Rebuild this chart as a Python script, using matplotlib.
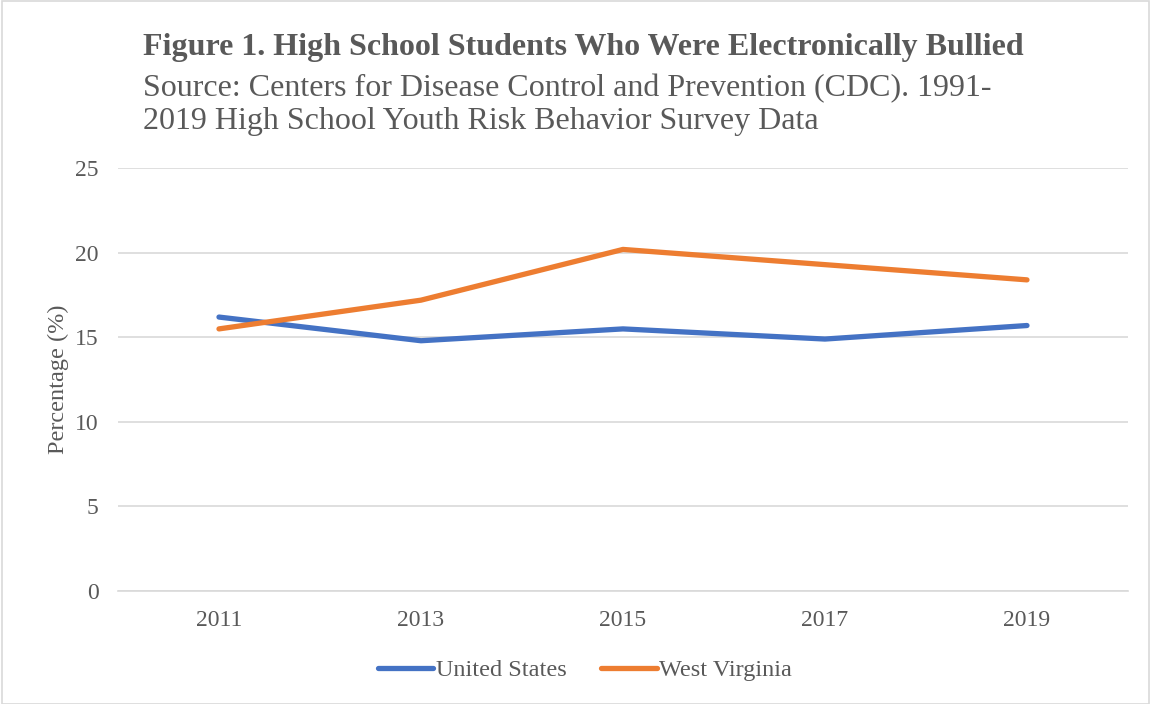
import matplotlib.pyplot as plt
from matplotlib.patches import Rectangle

plt.rcParams['font.family'] = ['Liberation Serif', 'DejaVu Serif']

years = ['2011', '2013', '2015', '2017', '2019']
united_states = [16.2, 14.8, 15.5, 14.9, 15.7]
west_virginia = [15.5, 17.2, 20.2, 19.3, 18.4]
y_ticks = [0, 5, 10, 15, 20, 25]

text_color = '#595959'

fig = plt.figure(figsize=(11.51, 7.04), dpi=100)
ax = fig.add_axes([0.1025, 0.1605, 0.8775, 0.6005])

x = range(len(years))
ax.plot(x, united_states, color='#4472C4', linewidth=3.8, solid_capstyle='round', label='United States')
ax.plot(x, west_virginia, color='#ED7D31', linewidth=3.8, solid_capstyle='round', label='West Virginia')

ax.set_xlim(-0.5, len(years) - 0.5)
ax.set_ylim(0, 25)
ax.set_yticks(y_ticks)
ax.set_xticks(list(x))
ax.set_xticklabels(years)
ax.grid(axis='y', color='#D9D9D9', linewidth=1.2)
ax.set_axisbelow(True)
for s in ['top', 'right', 'left']:
    ax.spines[s].set_visible(False)
ax.spines['bottom'].set_color('#D9D9D9')
ax.spines['bottom'].set_linewidth(1.2)
ax.tick_params(length=0, labelsize=17, labelcolor=text_color, pad=14)
ax.tick_params(axis='y', pad=14)
ax.set_ylabel('Percentage (%)', fontsize=17.5, color=text_color, labelpad=4)

fig.text(0.1242, 0.933, 'Figure 1. High School Students Who Were Electronically Bullied',
         fontsize=23, fontweight='bold', color=text_color, va='center')
fig.text(0.1242, 0.874, 'Source: Centers for Disease Control and Prevention (CDC). 1991-',
         fontsize=23, color=text_color, va='center')
fig.text(0.1242, 0.827, '2019 High School Youth Risk Behavior Survey Data',
         fontsize=23, color=text_color, va='center')

fig.legend(loc='center', bbox_to_anchor=(0.508, 0.048), ncol=2, frameon=False,
           fontsize=17.5, labelcolor=text_color, handlelength=2.3, handletextpad=0.1,
           columnspacing=1.4)

fig.patches.append(Rectangle((0.002, 0.0), 0.996, 0.998, transform=fig.transFigure,
                             fill=False, edgecolor='#D9D9D9', linewidth=1.2))

fig.savefig('out.png', dpi=100)
